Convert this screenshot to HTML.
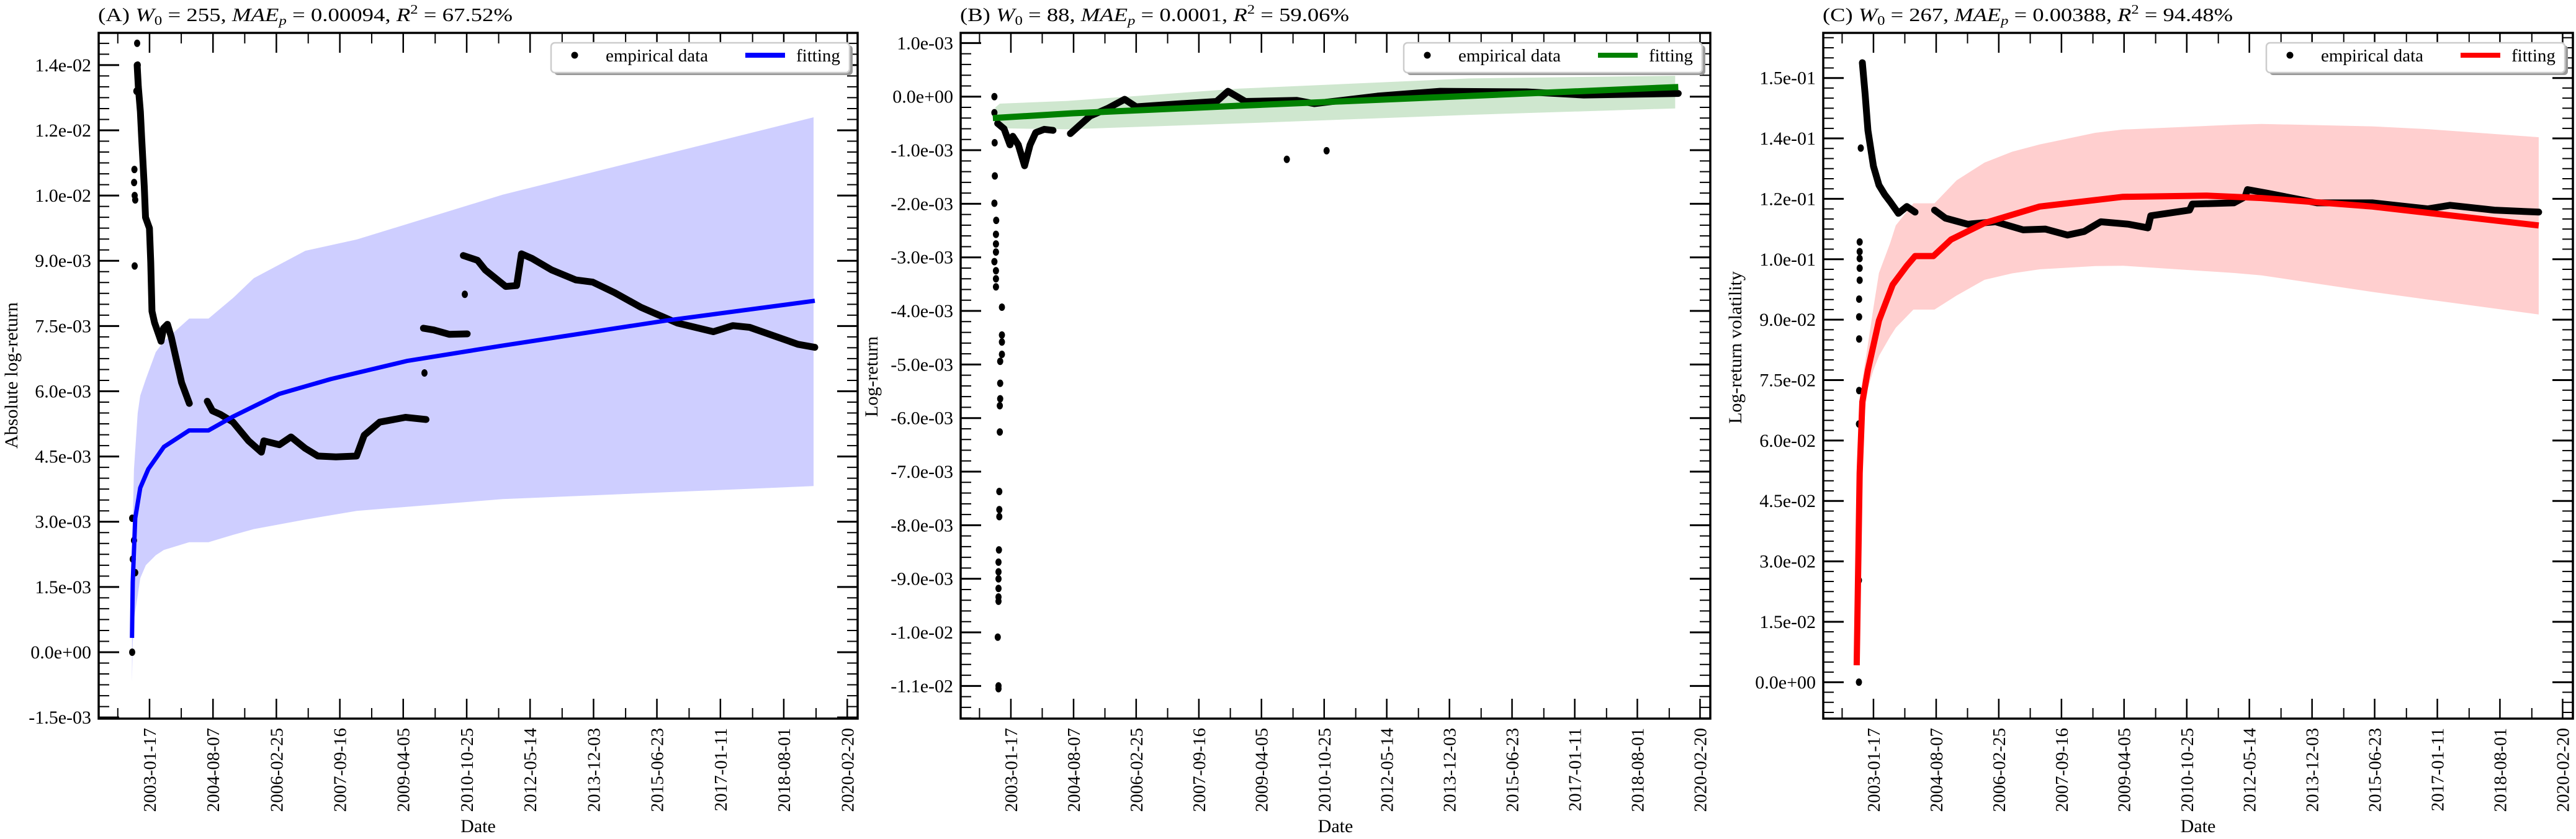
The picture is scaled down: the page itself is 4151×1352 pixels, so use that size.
<!DOCTYPE html>
<html><head><meta charset="utf-8"><style>
html,body{margin:0;padding:0;background:#fff;}
svg{display:block;}
text{font-family:"Liberation Serif",serif;fill:#000;}
</style></head><body>
<svg id="fig" width="4151" height="1352" viewBox="0 0 4151 1352" xmlns="http://www.w3.org/2000/svg"></svg>
<script>
// ---------- shared x-axis data ----------
var dateTicks = ["2003-01-17","2004-08-07","2006-02-25","2007-09-16","2009-04-05","2010-10-25","2012-05-14","2013-12-03","2015-06-23","2017-01-11","2018-08-01","2020-02-20"];
// data x values are days since 2003-01-17

// ---------- Panel A (values in units of 1e-3) ----------
var aYTicks = [-1.5,0,1.5,3,4.5,6,7.5,9,10.5,12,13.5];
var aYTickLabels = ["-1.5e-03","0.0e+00","1.5e-03","3.0e-03","4.5e-03","6.0e-03","7.5e-03","9.0e-03","1.0e-02","1.2e-02","1.4e-02"];
var aEmpDays = [-111,-100,-82,-70,-47,-36,-1,11,22,45,103,126,160,195,241,287,356,null,517,563,632,747,886,1001,1023,1162,1266,1392,1507,1668,1852,1921,2060,2290,2474,null,2451,2543,2681,2843,null,2808,2935,3004,3187,3285,3328,3425,3598,3814,3965,4160,4397,4549,4722,5045,5219,5370,5802,5953];
var aEmpVals = [13.5,13.0,12.43,11.82,10.70,10.00,9.75,8.97,7.84,7.58,7.15,7.45,7.54,7.24,6.72,6.20,5.72,null,5.77,5.55,5.47,5.29,4.86,4.60,4.86,4.77,4.95,4.69,4.51,4.49,4.51,4.99,5.29,5.40,5.35,null,7.45,7.41,7.31,7.32,null,9.12,9.01,8.79,8.41,8.43,9.16,9.05,8.79,8.56,8.51,8.27,7.93,7.76,7.57,7.37,7.51,7.47,7.08,7.01];
var aDotDays = [-111,-105,-118,-135,-138,-133,-128,-133,2460,2821,-155,-139,-150,-128,-155];
var aDotVals = [14.0,13.5,12.9,11.1,10.8,10.5,10.4,8.88,6.42,8.23,3.08,2.57,2.14,1.83,0.0];
var aFitDays = [-157,-150,-128,-83,-11,128,355,528,750,1161,1622,2310,3160,4637,5953];
var aFitVals = [0.33,1.61,3.08,3.78,4.21,4.72,5.10,5.10,5.42,5.94,6.28,6.70,7.05,7.63,8.08];
var aBandDays = [-157,-150,-139,-106,-83,-33,56,128,355,528,750,933,1394,1855,3160,5942];
var aBandUpper = [2.0,3.0,4.21,5.5,5.9,6.28,6.9,7.15,7.67,7.67,8.15,8.6,9.23,9.49,10.52,12.30];
var aBandLower = [-0.7,0.2,0.75,1.3,1.70,2.0,2.23,2.35,2.53,2.53,2.70,2.83,3.05,3.25,3.52,3.82];

// ---------- Panel B (values in units of 1e-3) ----------
var bYTicks = [1,0,-1,-2,-3,-4,-5,-6,-7,-8,-9,-10,-11];
var bYTickLabels = ["1.0e-03","0.0e+00","-1.0e-03","-2.0e-03","-3.0e-03","-4.0e-03","-5.0e-03","-6.0e-03","-7.0e-03","-8.0e-03","-9.0e-03","-1.0e-02","-1.1e-02"];
var bEmpDays = [-120,-62,-8,17,67,124,174,225,303,382,null,539,615,719,877,1031,1135,1551,1863,1967,2124,2590,2748,3321,3888,4669,5190,6046];
var bEmpVals = [-0.5,-0.6,-0.9,-0.74,-0.90,-1.29,-0.90,-0.67,-0.61,-0.63,null,-0.69,-0.55,-0.36,-0.22,-0.05,-0.19,-0.13,-0.09,0.10,-0.09,-0.07,-0.13,0.01,0.10,0.09,0.03,0.06];
var bDotDays = [-149,-149,-147,-145,-149,-133,-135,-135,-135,-149,-135,-135,-135,-81,-81,-81,-81,-97,-97,-97,-100,-100,-105,-105,-105,-108,-112,-112,-112,-112,-112,-112,-119,-112,-112,2500,2860];
var bDotVals = [0.0,-0.3,-0.86,-1.48,-1.99,-2.31,-2.57,-2.75,-2.9,-3.08,-3.25,-3.4,-3.55,-3.93,-4.45,-4.58,-4.81,-4.94,-5.35,-5.64,-5.77,-6.26,-7.37,-7.71,-7.84,-8.46,-8.69,-8.87,-9.0,-9.18,-9.34,-9.42,-10.09,-11.0,-11.05,-1.17,-1.01];
var bFitDays = [-163,562,2071,4000,6046];
var bFitVals = [-0.40,-0.31,-0.17,0.0,0.18];
var bBandDays = [-140,-100,511,2071,4150,6018];
var bBandUpper = [-0.2,-0.13,-0.08,0.15,0.34,0.39];
var bBandLower = [-0.55,-0.59,-0.61,-0.50,-0.34,-0.22];

// ---------- Panel C (values in units of 1e-2) ----------
var cYTicks = [0,1.5,3,4.5,6,7.5,9,10.5,12,13.5,15];
var cYTickLabels = ["0.0e+00","1.5e-02","3.0e-02","4.5e-02","6.0e-02","7.5e-02","9.0e-02","1.0e-01","1.2e-01","1.4e-01","1.5e-01"];
var cEmpDays = [-101,-75,-50,0,50,101,151,226,302,377,null,553,652,854,1105,1356,1556,1758,1909,2059,2310,2486,2512,2863,2888,3265,3366,3388,3566,4018,4518,5022,5223,5625,6026];
var cEmpVals = [15.38,14.58,13.70,12.81,12.34,12.11,11.93,11.64,11.81,11.67,null,11.72,11.52,11.37,11.43,11.23,11.25,11.10,11.19,11.43,11.37,11.28,11.58,11.72,11.87,11.90,12.05,12.23,12.14,11.90,11.90,11.75,11.84,11.72,11.67];
var cDotDays = [-115,-125,-125,-125,-125,-125,-130,-130,-130,-130,-132,-132,-132];
var cDotVals = [13.26,10.93,10.69,10.52,10.28,9.98,9.51,9.07,8.52,7.24,6.41,2.53,0.0];
var cFitDays = [-152,-140,-125,-101,-50,50,174,302,377,543,703,1006,1506,2259,3012,3515,4518,6026];
var cFitVals = [0.42,2.53,5.19,6.96,7.75,8.98,9.87,10.34,10.58,10.58,10.99,11.40,11.81,12.05,12.08,12.02,11.81,11.34];
var cBandDays = [-152,-125,-101,-50,0,50,151,202,362,553,753,1006,1256,1506,2009,2259,3265,3515,4518,5022,6026];
var cBandUpper = [0.6,6.0,7.5,8.39,9.3,10.16,10.9,11.34,11.89,11.89,12.46,12.9,13.17,13.35,13.64,13.72,13.84,13.86,13.80,13.73,13.53];
var cBandLower = [0.2,4.0,6.2,7.3,7.75,8.1,8.58,8.8,9.25,9.25,9.6,9.99,10.15,10.25,10.33,10.34,10.16,10.1,9.69,9.5,9.13];

var NS = "http://www.w3.org/2000/svg";
var svg = document.getElementById("fig");
var X_MIN = -455, X_MAX = 6336;
var T0 = Date.UTC(2003,0,17);
function dayOf(s){var p=s.split("-");return (Date.UTC(+p[0],+p[1]-1,+p[2])-T0)/864e5;}
function mk(tag, attrs, parent){var e=document.createElementNS(NS,tag);for(var k in attrs)e.setAttribute(k,attrs[k]);(parent||svg).appendChild(e);return e;}

function panel(cfg){
  var g = mk("g",{});
  
  
  var sx = function(d){return cfg.x0 + (d - X_MIN)/(X_MAX - X_MIN)*(cfg.x1 - cfg.x0);};
  var sy = function(v){return cfg.y1 - (v - cfg.yMin)/(cfg.yMax - cfg.yMin)*(cfg.y1 - cfg.y0);};
  var clip = mk("clipPath",{id:"clip"+cfg.id},g);
  mk("rect",{x:cfg.x0,y:cfg.y0,width:cfg.x1-cfg.x0,height:cfg.y1-cfg.y0},clip);
  var plot = mk("g",{"clip-path":"url(#clip"+cfg.id+")"},g);
  // band
  var pts=[],i;
  for(i=0;i<cfg.bandDays.length;i++) pts.push(sx(cfg.bandDays[i]).toFixed(1)+","+sy(cfg.bandUp[i]).toFixed(1));
  for(i=cfg.bandDays.length-1;i>=0;i--) pts.push(sx(cfg.bandDays[i]).toFixed(1)+","+sy(cfg.bandLo[i]).toFixed(1));
  var band = mk("polygon",{points:pts.join(" "),fill:cfg.bandColor},plot);
  
  
  // empirical line segments
  var d="",pen=false;
  for(i=0;i<cfg.empDays.length;i++){
    if(cfg.empDays[i]===null){pen=false;continue;}
    d += (pen?"L":"M")+sx(cfg.empDays[i]).toFixed(1)+" "+sy(cfg.empVals[i]).toFixed(1)+" ";
    pen=true;
  }
  var emp = mk("path",{d:d,fill:"none",stroke:"#000","stroke-width":11,"stroke-linejoin":"round","stroke-linecap":"round"},plot);
  
  
  for(i=0;i<cfg.dotDays.length;i++){
    var c = mk("ellipse",{cx:sx(cfg.dotDays[i]).toFixed(1),cy:sy(cfg.dotVals[i]).toFixed(1),rx:5,ry:6,fill:"#000"},plot);
    
    
  }
  // fit line
  d="";
  for(i=0;i<cfg.fitDays.length;i++) d += (i?"L":"M")+sx(cfg.fitDays[i]).toFixed(1)+" "+sy(cfg.fitVals[i]).toFixed(1)+" ";
  var fit = mk("path",{d:d,fill:"none",stroke:cfg.lineColor,"stroke-width":cfg.lineW,"stroke-linejoin":"round"},plot);
  
  
  // x ticks
  var tickDays = dateTicks.map(dayOf);
  var step = tickDays[1]-tickDays[0];
  for(i=0;i<tickDays.length;i++){
    var x = sx(tickDays[i]);
    mk("line",{x1:x,x2:x,y1:cfg.y1,y2:cfg.y1-32,stroke:"#000","stroke-width":2.5},g);
    mk("line",{x1:x,x2:x,y1:cfg.y0,y2:cfg.y0+32,stroke:"#000","stroke-width":2.5},g);
    var t = mk("text",{x:0,y:0,"font-size":29,"text-anchor":"end",transform:"translate("+(x+10).toFixed(1)+","+(cfg.y1+15)+") rotate(-90)"},g);
    t.textContent = dateTicks[i];
    
    
  }
  for(var m=tickDays[0]-step/2; m<X_MAX; m+=step){
    if(m<X_MIN) continue;
    var xm = sx(m);
    mk("line",{x1:xm,x2:xm,y1:cfg.y1,y2:cfg.y1-17,stroke:"#000","stroke-width":2},g);
    mk("line",{x1:xm,x2:xm,y1:cfg.y0,y2:cfg.y0+17,stroke:"#000","stroke-width":2},g);
  }
  // y ticks
  for(i=0;i<cfg.yTicks.length;i++){
    var y = sy(cfg.yTicks[i]);
    mk("line",{x1:cfg.x0,x2:cfg.x0+33,y1:y,y2:y,stroke:"#000","stroke-width":3},g);
    mk("line",{x1:cfg.x1,x2:cfg.x1-33,y1:y,y2:y,stroke:"#000","stroke-width":3},g);
    var tl = mk("text",{x:cfg.x0-12,y:y+10,"font-size":30,"text-anchor":"end"},g);
    tl.textContent = cfg.yLabels[i];
    
    
  }
  var lo = Math.ceil(cfg.yMin/cfg.minor), hi = Math.floor(cfg.yMax/cfg.minor);
  for(var k=lo;k<=hi;k++){
    var ym = sy(k*cfg.minor);
    mk("line",{x1:cfg.x0,x2:cfg.x0+17,y1:ym,y2:ym,stroke:"#000","stroke-width":2},g);
    mk("line",{x1:cfg.x1,x2:cfg.x1-17,y1:ym,y2:ym,stroke:"#000","stroke-width":2},g);
  }
  // frame
  mk("rect",{x:cfg.x0,y:cfg.y0,width:cfg.x1-cfg.x0,height:cfg.y1-cfg.y0,fill:"none",stroke:"#000","stroke-width":3.5},g);
  // axis titles
  var xt = mk("text",{x:(cfg.x0+cfg.x1)/2,y:1341,"font-size":30,"text-anchor":"middle"},g);
  xt.textContent = "Date";
  
  
  var yt = mk("text",{x:0,y:0,"font-size":30,"text-anchor":"middle",transform:"translate("+cfg.yTitleX+","+cfg.yTitleY+") rotate(-90)"},g);
  yt.textContent = cfg.yTitle;
  
  
  // title
  var tt = mk("text",{x:cfg.x0-1,y:34,"font-size":31,textLength:cfg.titleLen,lengthAdjust:"spacingAndGlyphs"},g);
  
  
  tt.innerHTML = cfg.titleHTML;
  // legend
  var lr = cfg.x1 - 13, ll = lr - 481;
  var leg = mk("g",{},g);
  
  
  mk("rect",{x:ll+5,y:73,width:481,height:48,rx:6,fill:"#999"},leg);
  mk("rect",{x:ll,y:69,width:481,height:48,rx:6,fill:"#fff",stroke:"#ccc","stroke-width":2.5},leg);
  mk("circle",{cx:ll+38,cy:89,r:5.5,fill:"#000"},leg);
  var e1 = mk("text",{x:ll+88,y:99,"font-size":29},leg);
  e1.textContent = "empirical data";
  
  
  mk("line",{x1:ll+313,x2:ll+377,y1:89,y2:89,stroke:cfg.lineColor,"stroke-width":8},leg);
  var e2 = mk("text",{x:ll+395,y:99,"font-size":29},leg);
  e2.textContent = "fitting";
  
  
}

function title(letter, w, mae, r2){
  return '('+letter+') <tspan font-style="italic">W</tspan><tspan font-size="21" dy="6">0</tspan><tspan dy="-6"> = '+w+', </tspan><tspan font-style="italic">MAE</tspan><tspan font-size="21" font-style="italic" dy="6">p</tspan><tspan dy="-6"> = '+mae+', </tspan><tspan font-style="italic">R</tspan><tspan font-size="21" dy="-12">2</tspan><tspan dy="12"> = '+r2+'%</tspan>';
}

panel({id:"A",name:"panel-a-absolute-log-return",x0:159,x1:1382,y0:53,y1:1158,yMin:-1.527,yMax:14.24,minor:0.25,
  yTicks:aYTicks,yLabels:aYTickLabels,empDays:aEmpDays,empVals:aEmpVals,dotDays:aDotDays,dotVals:aDotVals,
  fitDays:aFitDays,fitVals:aFitVals,bandDays:aBandDays,bandUp:aBandUpper,bandLo:aBandLower,
  bandColor:"#ceceff",lineColor:"#0000ff",lineW:7,yTitle:"Absolute log-return",yTitleX:28,yTitleY:605,
  titleLen:668,titleHTML:title("A","255","0.00094","67.52")});
panel({id:"B",name:"panel-b-log-return",x0:1548,x1:2756,y0:53,y1:1158,yMin:-11.61,yMax:1.19,minor:0.2,
  yTicks:bYTicks,yLabels:bYTickLabels,empDays:bEmpDays,empVals:bEmpVals,dotDays:bDotDays,dotVals:bDotVals,
  fitDays:bFitDays,fitVals:bFitVals,bandDays:bBandDays,bandUp:bBandUpper,bandLo:bBandLower,
  bandColor:"#cfe7cf",lineColor:"#008000",lineW:10,yTitle:"Log-return",yTitleX:1414,yTitleY:607,
  titleLen:627,titleHTML:title("B","88","0.0001","59.06")});
panel({id:"C",name:"panel-c-log-return-volatility",x0:2938,x1:4146,y0:53,y1:1158,yMin:-0.904,yMax:16.12,minor:0.25,
  yTicks:cYTicks,yLabels:cYTickLabels,empDays:cEmpDays,empVals:cEmpVals,dotDays:cDotDays,dotVals:cDotVals,
  fitDays:cFitDays,fitVals:cFitVals,bandDays:cBandDays,bandUp:cBandUpper,bandLo:cBandLower,
  bandColor:"#ffcfcf",lineColor:"#ff0000",lineW:10,yTitle:"Log-return volatility",yTitleX:2806,yTitleY:560,
  titleLen:661,titleHTML:title("C","267","0.00388","94.48")});
</script>
</body></html>
